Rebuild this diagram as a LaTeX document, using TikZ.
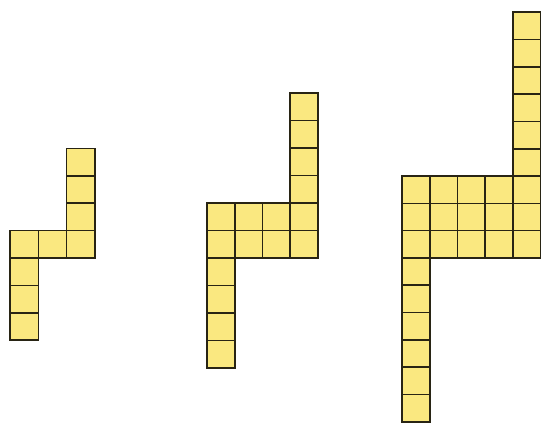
\documentclass[tikz,border=0pt]{standalone}
\definecolor{cellfill}{RGB}{250,232,128}
\definecolor{cellline}{RGB}{40,36,20}
\begin{document}
\begin{tikzpicture}[x=1pt,y=-1pt,
  cellbox/.style={fill=cellfill,draw=cellline,line width=1.6pt,line join=miter}]
\useasboundingbox (0,0) rectangle (541,423);
% Figure 1
\foreach \c/\r in {0/0,1/0,2/0,2/-1,2/-2,2/-3,0/1,0/2,0/3}
  \draw[cellbox] ({10+\c*28.3},{230.5+\r*27.4}) rectangle ++(28.3,27.4);
% Figure 2
\foreach \c/\r in {0/0,1/0,2/0,3/0,0/1,1/1,2/1,3/1,3/-1,3/-2,3/-3,3/-4,0/2,0/3,0/4,0/5}
  \draw[cellbox] ({207+\c*27.75},{203+\r*27.5}) rectangle ++(27.75,27.5);
% Figure 3
\foreach \c/\r in {0/0,1/0,2/0,3/0,4/0,0/1,1/1,2/1,3/1,4/1,0/2,1/2,2/2,3/2,4/2,
                   4/-1,4/-2,4/-3,4/-4,4/-5,4/-6,0/3,0/4,0/5,0/6,0/7,0/8}
  \draw[cellbox] ({402+\c*27.75},{176+\r*27.3}) rectangle ++(27.75,27.3);
\end{tikzpicture}
\end{document}
